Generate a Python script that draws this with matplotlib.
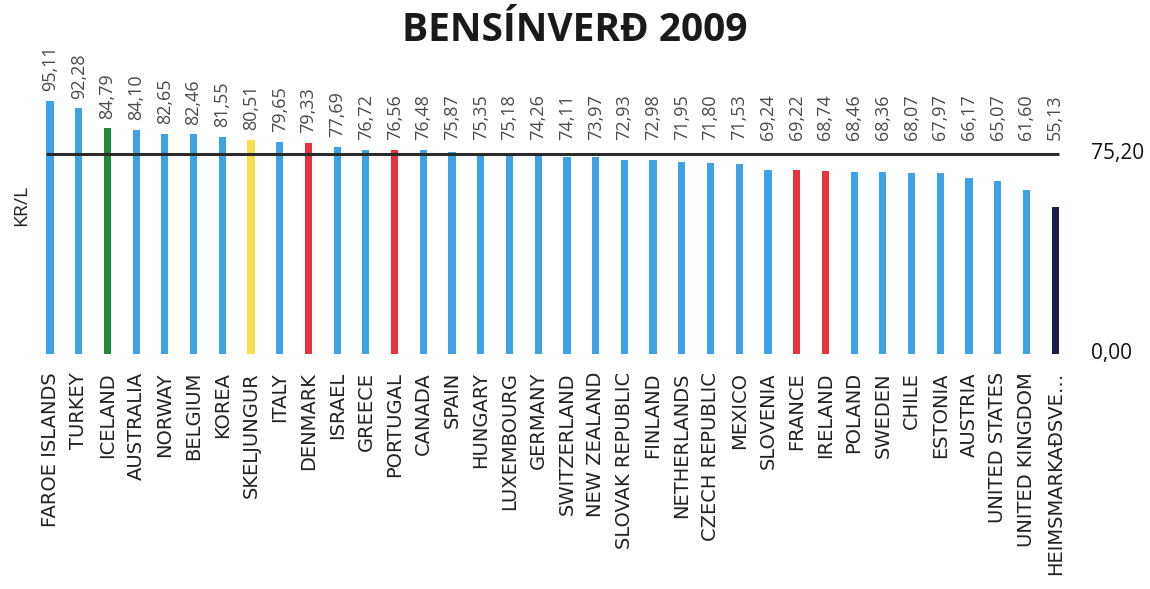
import matplotlib.pyplot as plt

countries = [
    "FAROE ISLANDS", "TURKEY", "ICELAND", "AUSTRALIA", "NORWAY", "BELGIUM",
    "KOREA", "SKELJUNGUR", "ITALY", "DENMARK", "ISRAEL", "GREECE", "PORTUGAL",
    "CANADA", "SPAIN", "HUNGARY", "LUXEMBOURG", "GERMANY", "SWITZERLAND",
    "NEW ZEALAND", "SLOVAK REPUBLIC", "FINLAND", "NETHERLANDS",
    "CZECH REPUBLIC", "MEXICO", "SLOVENIA", "FRANCE", "IRELAND", "POLAND",
    "SWEDEN", "CHILE", "ESTONIA", "AUSTRIA", "UNITED STATES",
    "UNITED KINGDOM", "HEIMSMARKAÐSVE…",
]
prices = [
    95.11, 92.28, 84.79, 84.10, 82.65, 82.46, 81.55, 80.51, 79.65, 79.33,
    77.69, 76.72, 76.56, 76.48, 75.87, 75.35, 75.18, 74.26, 74.11, 73.97,
    72.93, 72.98, 71.95, 71.80, 71.53, 69.24, 69.22, 68.74, 68.46, 68.36,
    68.07, 67.97, 66.17, 65.07, 61.60, 55.13,
]
average = 75.20

# highlight colours per country, everything else is the default blue
highlight = {
    "ICELAND": "#1e8c3c",
    "SKELJUNGUR": "#f7e04b",
    "DENMARK": "#e5343d",
    "PORTUGAL": "#e5343d",
    "FRANCE": "#e5343d",
    "IRELAND": "#e5343d",
    "HEIMSMARKAÐSVE…": "#1b1f4d",
}
colors = [highlight.get(c, "#3ea2e6") for c in countries]


def fmt(v):
    return f"{v:.2f}".replace(".", ",")


fig = plt.figure(figsize=(11.5, 5.89), dpi=100)
ax = fig.add_axes([0.031, 0.399, 0.899, 0.452])

x = list(range(len(countries)))
ax.bar(x, prices, width=0.25, color=colors)
ax.hlines(average, -0.15, len(countries) - 0.85, color="#2b2b2b", lw=2.2, zorder=3)

for i, v in enumerate(prices):
    ax.annotate(fmt(v), (i, max(v, average + 1.5)), xytext=(0, 7),
                textcoords="offset points", rotation=90, ha="center",
                va="bottom", fontsize=13, color="#4a4a4a",
                family="Open Sans", annotation_clip=False)

ax.set_xlim(-0.5, len(countries) - 0.5)
ax.set_ylim(0, 100)
ax.set_xticks(x)
ax.set_xticklabels(countries, rotation=90, fontsize=14, color="#222222",
                   family="DejaVu Sans")
ax.tick_params(axis="x", length=0, pad=13)
ax.set_yticks([])
for s in ax.spines.values():
    s.set_visible(False)

# value labels for the average line and zero on the right
ax.text(36.25, average, fmt(average), ha="left", va="center", fontsize=15,
        family="Open Sans", color="#111111")
ax.text(36.25, 0, fmt(0), ha="left", va="center", fontsize=15,
        family="Open Sans", color="#111111")

fig.text(0.018, 0.652, "KR/L", rotation=90, ha="center", va="center",
         fontsize=14, family="Open Sans", color="#222222")
fig.text(0.5, 0.949, "BENSÍNVERÐ 2009", ha="center", va="center",
         fontsize=28, fontweight="bold", family="Open Sans", color="#1a1a1a")

fig.savefig("out.png", dpi=100)
